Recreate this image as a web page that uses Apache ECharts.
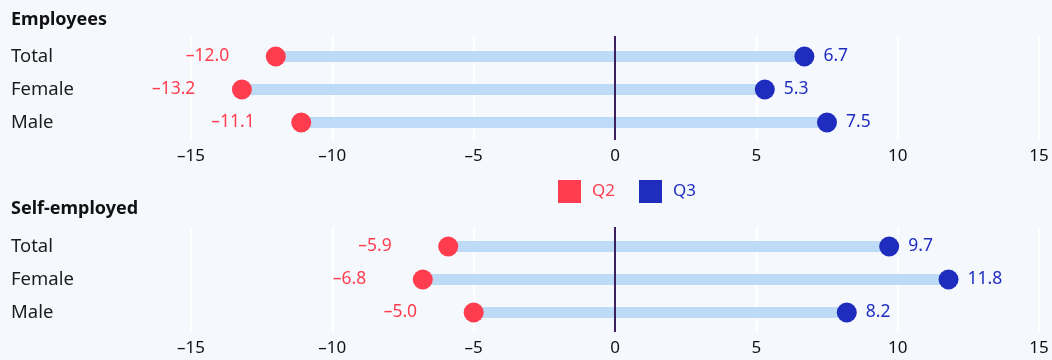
<!DOCTYPE html>
<html>
<head>
<meta charset="utf-8">
<script src="https://cdn.jsdelivr.net/npm/echarts@6/dist/echarts.min.js"></script>
<style>
  html, body { margin: 0; padding: 0; background: #f5f9fe; }
  #chart { width: 1052px; height: 360px; }
</style>
</head>
<body>
<div id="chart"></div>
<script>
// Change in employment by group, Q2 vs Q3
const groups = ['Total', 'Female', 'Male'];
const panelTitles = ['Employees', 'Self-employed'];
const employeesQ2 = [-12.0, -13.2, -11.1];
const employeesQ3 = [6.7, 5.3, 7.5];
const selfEmployedQ2 = [-5.9, -6.8, -5.0];
const selfEmployedQ3 = [9.7, 11.8, 8.2];
const xTicks = [-15, -10, -5, 0, 5, 10, 15];

const RED = '#ff3d4e';
const BLUE = '#1f2dbf';
const BAND = '#bddbf6';
const ZERO = '#3c1f5f';
const FONT = 'Noto Sans';

const fmt = v => String(v.toFixed(1)).replace('-', '\u2013');
const tickFmt = v => String(v).replace('-', '\u2013');

const panels = [
  { q2: employeesQ2, q3: employeesQ3, dataTop: 40, bgTop: 36, bgHeight: 104 },
  { q2: selfEmployedQ2, q3: selfEmployedQ3, dataTop: 230, bgTop: 227, bgHeight: 105 }
];

const grid = [], xAxis = [], yAxis = [], series = [];
panels.forEach((p, i) => {
  // background grid: gridlines, zero line and tick labels
  grid.push({ left: 191, right: 13, top: p.bgTop, height: p.bgHeight });
  // data grid: rows and category labels
  grid.push({ left: 191, right: 13, top: p.dataTop, height: 99 });
  const bg = i * 2, dg = i * 2 + 1;

  xAxis.push({
    gridIndex: bg, type: 'value', min: xTicks[0], max: xTicks[xTicks.length - 1], interval: 5,
    axisLine: { show: false }, axisTick: { show: false },
    splitLine: { show: true, lineStyle: { color: '#ffffff', width: 2 } },
    axisLabel: { margin: 8, fontFamily: FONT, fontSize: 17, color: '#111', formatter: tickFmt }
  });
  xAxis.push({
    gridIndex: dg, type: 'value', min: xTicks[0], max: xTicks[xTicks.length - 1], interval: 5, show: false
  });
  yAxis.push({
    gridIndex: bg, type: 'value', min: 0, max: 1, show: false
  });
  yAxis.push({
    gridIndex: dg, type: 'category', data: groups, inverse: true,
    axisLine: { show: false }, axisTick: { show: false }, splitLine: { show: false },
    axisLabel: { align: 'left', margin: 180, fontFamily: FONT, fontSize: 18.5, color: '#1c1c1c' }
  });

  // zero reference line
  series.push({
    type: 'scatter', xAxisIndex: bg, yAxisIndex: bg, data: [], silent: true,
    markLine: {
      symbol: 'none', silent: true, label: { show: false },
      lineStyle: { color: ZERO, width: 2, type: 'solid' },
      data: [{ xAxis: 0 }]
    }
  });

  // band connecting Q2 and Q3
  series.push({
    type: 'custom', xAxisIndex: dg, yAxisIndex: dg, z: 2, silent: true,
    data: groups.map((g, k) => [p.q2[k], p.q3[k], k]),
    renderItem: (params, api) => {
      const a = api.coord([api.value(0), api.value(2)]);
      const b = api.coord([api.value(1), api.value(2)]);
      const h = 11;
      return {
        type: 'rect',
        shape: { x: a[0], y: a[1] - h / 2, width: b[0] - a[0], height: h },
        style: { fill: BAND }
      };
    }
  });

  series.push({
    name: 'Q2', type: 'scatter', xAxisIndex: dg, yAxisIndex: dg, z: 3,
    symbol: 'circle', symbolSize: 20, itemStyle: { color: RED, opacity: 1 },
    data: groups.map((g, k) => [p.q2[k], g]),
    label: {
      show: true, position: [-80, 10], align: 'left', verticalAlign: 'middle',
      fontFamily: FONT, fontSize: 17.5, color: RED,
      formatter: d => fmt(d.value[0])
    }
  });
  series.push({
    name: 'Q3', type: 'scatter', xAxisIndex: dg, yAxisIndex: dg, z: 3,
    symbol: 'circle', symbolSize: 20, itemStyle: { color: BLUE, opacity: 1 },
    data: groups.map((g, k) => [p.q3[k], g]),
    label: {
      show: true, position: [29, 10], align: 'left', verticalAlign: 'middle',
      fontFamily: FONT, fontSize: 17.5, color: BLUE,
      formatter: d => fmt(d.value[0])
    }
  });
});

const chart = echarts.init(document.getElementById('chart'), null, { renderer: 'canvas' });
chart.setOption({
  backgroundColor: '#f5f9fe',
  animation: false,
  title: [
    { text: panelTitles[0], left: 6, top: 6, textStyle: { fontFamily: FONT, fontSize: 18, fontWeight: 'bold', color: '#111' } },
    { text: panelTitles[1], left: 6, top: 195, textStyle: { fontFamily: FONT, fontSize: 18, fontWeight: 'bold', color: '#111' } }
  ],
  legend: {
    left: 553, top: 175, icon: 'rect', itemWidth: 23, itemHeight: 23, itemGap: 24,
    textStyle: { fontFamily: FONT, fontSize: 17, padding: [0, 0, 0, 6] },
    itemStyle: { opacity: 1 },
    data: [
      { name: 'Q2', textStyle: { color: RED } },
      { name: 'Q3', textStyle: { color: BLUE } }
    ]
  },
  grid, xAxis, yAxis, series
});
</script>
</body>
</html>
